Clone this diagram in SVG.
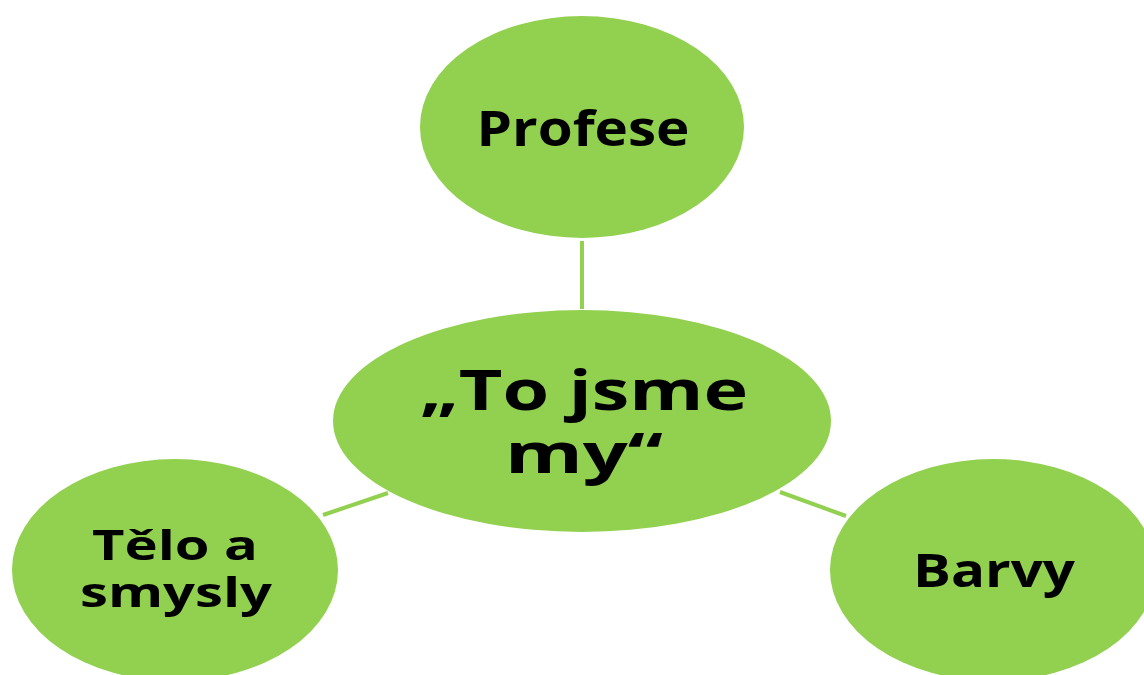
<svg xmlns="http://www.w3.org/2000/svg" width="1144" height="675" viewBox="0 0 1144 675">
<style>
.node{fill:#92D050;}
.conn{stroke:#92D050;stroke-width:4;fill:none;}
text{font-family:"Open Sans","Liberation Sans",sans-serif;font-weight:bold;fill:#000;text-anchor:middle;}
</style>
<rect width="1144" height="675" fill="#fff"/>
<g id="connectors">
<line class="conn" x1="582" y1="241" x2="582" y2="309"/>
<line class="conn" x1="323" y1="515" x2="388" y2="493"/>
<line class="conn" x1="780" y1="492" x2="846" y2="516"/>
</g>
<g id="node-profese">
<ellipse class="node" cx="582" cy="127" rx="162" ry="111"/>
<text x="583" y="146" font-size="48" textLength="213" lengthAdjust="spacingAndGlyphs">Profese</text>
</g>
<g id="node-center">
<ellipse class="node" cx="582" cy="421" rx="249" ry="111"/>
<text x="584" y="410" font-size="56" textLength="328" lengthAdjust="spacingAndGlyphs">„To jsme</text>
<text x="584" y="473" font-size="56" textLength="158" lengthAdjust="spacingAndGlyphs">my“</text>
</g>
<g id="node-telo">
<ellipse class="node" cx="175" cy="570" rx="163" ry="111"/>
<text x="175" y="560" font-size="42" textLength="166" lengthAdjust="spacingAndGlyphs">Tělo a</text>
<text x="176" y="607" font-size="42" textLength="192" lengthAdjust="spacingAndGlyphs">smysly</text>
</g>
<g id="node-barvy">
<ellipse class="node" cx="993" cy="570" rx="163" ry="111"/>
<text x="994" y="587" font-size="46" textLength="162" lengthAdjust="spacingAndGlyphs">Barvy</text>
</g>
</svg>
